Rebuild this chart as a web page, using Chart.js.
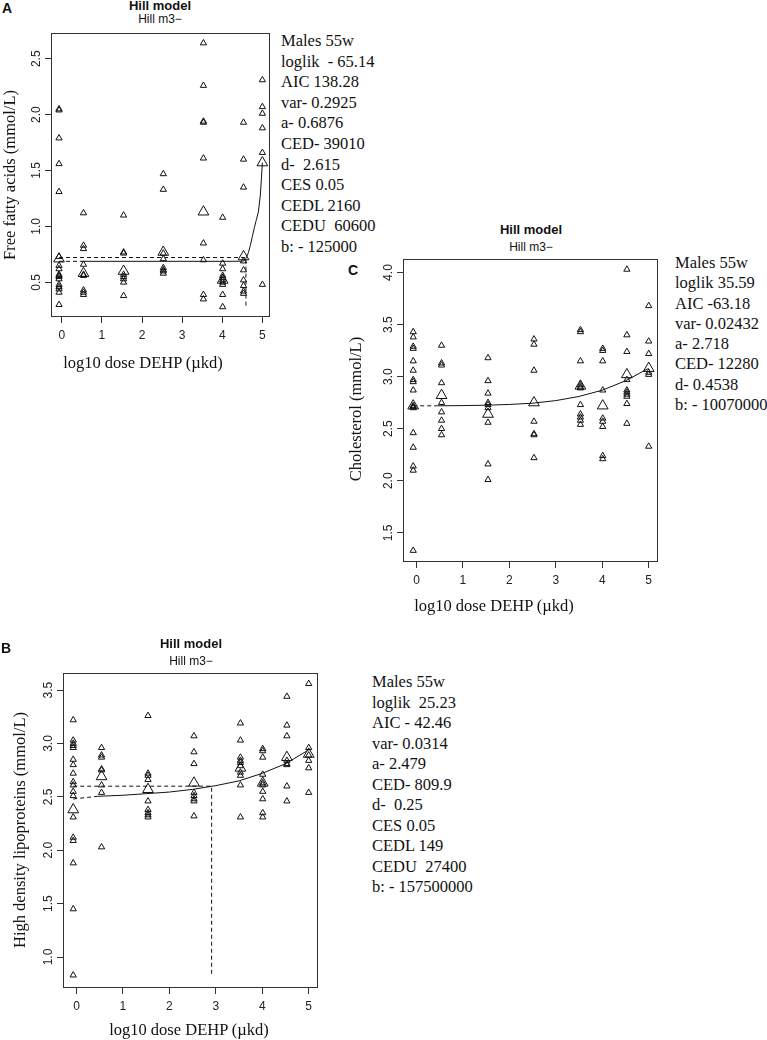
<!DOCTYPE html>
<html>
<head>
<meta charset="utf-8">
<script src="https://cdn.jsdelivr.net/npm/chart.js@4.4.1/dist/chart.umd.min.js"></script>
<style>
  body { margin: 0; background: #fff; width: 767px; height: 1040px; position: relative; overflow: hidden; }
  canvas { position: absolute; }
  .stats { position: absolute; font: 16.5px 'Liberation Serif', serif; line-height: 20.6px; white-space: pre; color: #111; }
  .hd { position: absolute; width: 200px; text-align: center; font: bold 13px 'Liberation Sans', sans-serif; line-height: 13px; color: #111; }
  .sub { position: absolute; width: 200px; text-align: center; font: 12px 'Liberation Sans', sans-serif; line-height: 12px; color: #111; }
  .letter { position: absolute; font: bold 14px 'Liberation Sans', sans-serif; line-height: 14px; color: #111; }
  .xt { position: absolute; width: 300px; text-align: center; font: 16.5px 'Liberation Serif', serif; line-height: 16.5px; color: #111; white-space: pre; }
  .yt { position: absolute; width: 400px; height: 20px; text-align: center; font: 16.5px 'Liberation Serif', serif; line-height: 20px; color: #111; transform: rotate(-90deg); white-space: pre; }
</style>
</head>
<body>

<!-- panel A -->
<div class="letter" style="left:2px;top:1px">A</div>
<div class="hd" style="left:60px;top:-1px">Hill model</div>
<div class="sub" style="left:60px;top:13px">Hill m3&minus;</div>
<canvas id="chartA"></canvas>
<div class="yt" style="left:-190px;top:165px">Free fatty acids (mmol/L)</div>
<div class="xt" style="left:-7px;top:355px">log10 dose DEHP (µkd)</div>
<div class="stats" style="left:281px;top:31px">Males 55w
loglik  - 65.14
AIC 138.28
var- 0.2925
a- 0.6876
CED- 39010
d-  2.615
CES 0.05
CEDL 2160
CEDU  60600
b: - 125000</div>

<!-- panel C -->
<div class="letter" style="left:348px;top:263px">C</div>
<div class="hd" style="left:431px;top:223px">Hill model</div>
<div class="sub" style="left:431px;top:241px">Hill m3&minus;</div>
<canvas id="chartC"></canvas>
<div class="yt" style="left:156px;top:399px">Cholesterol (mmol/L)</div>
<div class="xt" style="left:344px;top:598px">log10 dose DEHP (µkd)</div>
<div class="stats" style="left:675px;top:253px;line-height:20.3px">Males 55w
loglik 35.59
AIC -63.18
var- 0.02432
a- 2.718
CED- 12280
d- 0.4538
b: - 10070000</div>

<!-- panel B -->
<div class="letter" style="left:1px;top:641px">B</div>
<div class="hd" style="left:91px;top:637px">Hill model</div>
<div class="sub" style="left:91px;top:655px">Hill m3&minus;</div>
<canvas id="chartB"></canvas>
<div class="yt" style="left:-180px;top:820px">High density lipoproteins (mmol/L)</div>
<div class="xt" style="left:39px;top:1022px">log10 dose DEHP (µkd)</div>
<div class="stats" style="left:372px;top:672px;line-height:20.5px">Males 55w
loglik  25.23
AIC - 42.46
var- 0.0314
a- 2.479
CED- 809.9
d-  0.25
CES 0.05
CEDL 149
CEDU  27400
b: - 157500000</div>

<script>
// log10 dose of each group (control drawn just left of 0)
const doseX = [-0.07, 0.54, 1.54, 2.53, 3.53, 4.01, 4.53, 5.0];
const xTicks = [0, 1, 2, 3, 4, 5];

// A: free fatty acids
const ffaObs = [
  [2.05, 2.04, 1.79, 1.56, 1.31, 0.73, 0.65, 0.62, 0.57, 0.56, 0.55, 0.53, 0.48, 0.46, 0.44, 0.41, 0.30],
  [1.12, 0.83, 0.80, 0.66, 0.57, 0.56, 0.43, 0.41, 0.39],
  [1.10, 0.77, 0.76, 0.57, 0.55, 0.53, 0.50, 0.38],
  [1.47, 1.33, 0.76, 0.71, 0.63, 0.61, 0.60, 0.58],
  [2.64, 2.26, 1.94, 1.93, 1.61, 0.85, 0.70, 0.39, 0.35],
  [1.08, 0.67, 0.62, 0.56, 0.54, 0.52, 0.50, 0.48, 0.39, 0.28],
  [1.93, 1.60, 1.35, 0.69, 0.61, 0.52, 0.47, 0.42, 0.40],
  [2.31, 2.07, 2.01, 1.88, 1.66, 0.48]
];
const ffaMeans = [0.71, 0.58, 0.60, 0.77, 1.13, 0.52, 0.73, 1.57];
const ffaCurveX = [0.45, 1, 2, 3, 4, 4.5, 4.55, 4.6, 4.65, 4.7, 4.75, 4.8, 4.85, 4.9, 4.95, 5.0];
const ffaCurveY = [0.688, 0.688, 0.688, 0.688, 0.688, 0.689, 0.695, 0.72, 0.765, 0.83, 0.91, 0.99, 1.06, 1.13, 1.28, 1.57];
const ffaLeadX = [-0.07, 0.45];
const ffaLeadY = [0.688, 0.688];
const ffaCedX = [-0.07, 4.59, 4.59];
const ffaCedY = [0.722, 0.722, 0.28];
const ffaYTicks = [0.5, 1.0, 1.5, 2.0, 2.5];

// C: cholesterol
const cholObs = [
  [3.43, 3.38, 3.29, 3.27, 3.15, 3.06, 2.97, 2.95, 2.87, 2.72, 2.71, 2.70, 2.46, 2.32, 2.14, 2.10, 1.33],
  [3.30, 3.13, 3.11, 2.94, 2.75, 2.66, 2.58, 2.50, 2.44],
  [3.18, 2.96, 2.84, 2.75, 2.73, 2.70, 2.56, 2.16, 2.01],
  [3.36, 3.31, 3.06, 2.57, 2.45, 2.44, 2.22],
  [3.45, 3.43, 3.15, 2.92, 2.90, 2.89, 2.73, 2.64, 2.61, 2.58, 2.54],
  [3.27, 3.25, 3.15, 2.87, 2.60, 2.57, 2.52, 2.24, 2.21],
  [4.03, 3.40, 3.24, 2.97, 2.87, 2.85, 2.83, 2.81, 2.74, 2.55],
  [3.68, 3.34, 3.22, 3.04, 3.02, 2.33]
];
const cholMeans = [2.72, 2.82, 2.64, 2.75, 2.91, 2.72, 3.02, 3.08];
const cholCurveX = [0.45, 1, 1.5, 2, 2.5, 3, 3.5, 4, 4.5, 5];
const cholCurveY = [2.72, 2.722, 2.726, 2.733, 2.745, 2.77, 2.81, 2.87, 2.96, 3.08];
const cholLeadX = [-0.07, 0.45];
const cholLeadY = [2.72, 2.72];
const cholYTicks = [1.5, 2.0, 2.5, 3.0, 3.5, 4.0];

// B: high density lipoproteins
const hdlObs = [
  [3.22, 3.03, 3.00, 2.98, 2.96, 2.85, 2.80, 2.72, 2.64, 2.61, 2.55, 2.51, 2.31, 2.12, 2.09, 1.88, 1.45, 0.83],
  [2.96, 2.89, 2.87, 2.76, 2.75, 2.61, 2.54, 2.03],
  [3.26, 2.72, 2.70, 2.66, 2.46, 2.38, 2.35, 2.33, 2.31],
  [3.07, 2.92, 2.81, 2.54, 2.51, 2.48, 2.46, 2.32],
  [3.19, 3.03, 2.87, 2.84, 2.82, 2.79, 2.73, 2.70, 2.61, 2.31],
  [2.95, 2.93, 2.87, 2.71, 2.63, 2.61, 2.55, 2.48, 2.35, 2.31],
  [3.44, 3.17, 3.07, 2.84, 2.81, 2.80, 2.60, 2.46],
  [3.56, 2.96, 2.89, 2.84, 2.77, 2.54]
];
const hdlMeans = [2.38, 2.69, 2.57, 2.63, 2.77, 2.63, 2.87, 2.90];
const hdlCurveX = [0.45, 1, 1.5, 2, 2.5, 3, 3.5, 4, 4.5, 5];
const hdlCurveY = [2.505, 2.515, 2.53, 2.545, 2.57, 2.605, 2.65, 2.72, 2.81, 2.94];
const hdlLeadX = [-0.07, 0.45];
const hdlLeadY = [2.48, 2.505];
const hdlCedX = [-0.07, 2.91, 2.91];
const hdlCedY = [2.60, 2.60, 0.83];
const hdlYTicks = [1.0, 1.5, 2.0, 2.5, 3.0, 3.5];

Chart.defaults.font.family = "'Liberation Sans', Arial, sans-serif";
Chart.defaults.color = '#222';

const INK = '#111';
const M_LEFT = 45, M_TOP = 10, M_RIGHT = 8, M_BOTTOM = 40;

const pairs = (xs, ys) => xs.map((x, i) => ({ x: x, y: ys[i] }));

// R-style full box round the plot region
const boxPlugin = {
  id: 'box',
  afterDraw(chart) {
    const a = chart.chartArea;
    const ctx = chart.ctx;
    ctx.save();
    ctx.strokeStyle = '#333';
    ctx.lineWidth = 1;
    ctx.strokeRect(Math.round(a.left) + 0.5, Math.round(a.top) + 0.5,
                   Math.round(a.right - a.left) - 1, Math.round(a.bottom - a.top) - 1);
    ctx.restore();
  }
};

function lineSet(data, dashed) {
  return {
    type: 'scatter', data: data, showLine: true, pointRadius: 0,
    borderColor: INK, borderWidth: 1, borderDash: dashed ? [4, 3] : [],
    fill: false, order: 2
  };
}

function buildPanel(id, box, xRange, yRange, yTicks, obs, means, lines) {
  const canvas = document.getElementById(id);
  canvas.width = box.w + M_LEFT + M_RIGHT;
  canvas.height = box.h + M_TOP + M_BOTTOM;
  canvas.style.left = (box.left - M_LEFT) + 'px';
  canvas.style.top = (box.top - M_TOP) + 'px';

  const obsPoints = obs.flatMap((vals, i) => vals.map(v => ({ x: doseX[i], y: v })));
  const meanPoints = means.map((v, i) => ({ x: doseX[i], y: v }));

  const datasets = lines.map(l => lineSet(l.data, l.dashed));
  datasets.push({
    data: obsPoints, pointStyle: 'triangle', pointRadius: 3.6,
    borderColor: INK, borderWidth: 1, backgroundColor: 'rgba(0,0,0,0)', order: 1
  });
  datasets.push({
    data: meanPoints, pointStyle: 'triangle', pointRadius: 6.2,
    borderColor: INK, borderWidth: 1, backgroundColor: 'rgba(0,0,0,0)', order: 0
  });

  return new Chart(canvas, {
    type: 'scatter',
    data: { datasets: datasets },
    plugins: [boxPlugin],
    options: {
      responsive: false,
      animation: false,
      events: [],
      layout: { padding: { left: 0, top: M_TOP, right: M_RIGHT, bottom: 0 } },
      plugins: { legend: { display: false }, tooltip: { enabled: false } },
      scales: {
        x: {
          type: 'linear', min: xRange[0], max: xRange[1],
          afterBuildTicks: s => { s.ticks = xTicks.map(v => ({ value: v })); },
          afterFit: s => { s.height = M_BOTTOM; },
          border: { display: false },
          grid: { drawOnChartArea: false, drawTicks: true, tickLength: 6, color: '#333' },
          ticks: { font: { size: 12 }, color: '#222', padding: 5, maxRotation: 0, callback: v => String(v) }
        },
        y: {
          type: 'linear', min: yRange[0], max: yRange[1],
          afterBuildTicks: s => { s.ticks = yTicks.map(v => ({ value: v })); },
          afterFit: s => { s.width = M_LEFT; },
          border: { display: false },
          grid: { drawOnChartArea: false, drawTicks: true, tickLength: 6, color: '#333' },
          ticks: { font: { size: 12 }, color: '#222', padding: 0, minRotation: 90, maxRotation: 90,
                   crossAlign: 'center', callback: v => v.toFixed(1) }
        }
      }
    }
  });
}

buildPanel('chartA', { left: 51, top: 33, w: 219, h: 284 }, [-0.27, 5.19], [0.19, 2.73], ffaYTicks,
  ffaObs, ffaMeans, [
    { data: pairs(ffaCurveX, ffaCurveY), dashed: false },
    { data: pairs(ffaLeadX, ffaLeadY), dashed: true },
    { data: pairs(ffaCedX, ffaCedY), dashed: true }
  ]);

buildPanel('chartC', { left: 403, top: 259, w: 255, h: 303 }, [-0.29, 5.2], [1.22, 4.13], cholYTicks,
  cholObs, cholMeans, [
    { data: pairs(cholCurveX, cholCurveY), dashed: false },
    { data: pairs(cholLeadX, cholLeadY), dashed: true }
  ]);

buildPanel('chartB', { left: 63, top: 673, w: 255, h: 315 }, [-0.29, 5.2], [0.71, 3.66], hdlYTicks,
  hdlObs, hdlMeans, [
    { data: pairs(hdlCurveX, hdlCurveY), dashed: false },
    { data: pairs(hdlLeadX, hdlLeadY), dashed: true },
    { data: pairs(hdlCedX, hdlCedY), dashed: true }
  ]);
</script>
</body>
</html>
